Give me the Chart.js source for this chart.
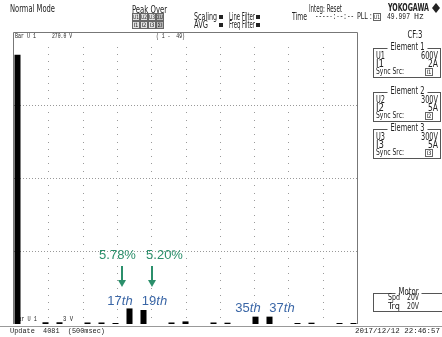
<!DOCTYPE html>
<html>
<head>
<meta charset="utf-8">
<script src="https://cdn.jsdelivr.net/npm/chart.js@4.4.0/dist/chart.umd.min.js"></script>
<style>
html, body { margin: 0; padding: 0; background: #fff; }
</style>
</head>
<body>
<canvas id="harmChart" width="442" height="337"></canvas>
<script>
// harmonic orders shown on the bar page
var orders = [];
for (var k = 1; k <= 49; k++) orders.push(k);

// U1 amplitude per order (V), order 1 .. 49
var u1Values = [
	249.0, 0, 0, 0, 1.6, 0, 1.6, 0, 0, 0,
	1.4, 0, 1.4, 0, 0.9, 0, 14.39, 0, 12.95, 0,
	0, 0, 1.4, 0, 2.4, 0, 0, 0, 1.4, 0,
	1.2, 0, 0, 0, 6.8, 0, 6.8, 0, 0, 0,
	0.9, 0, 1.2, 0, 0, 0, 0.9, 0, 0.9
];

// range of the bar page and its divisions
var rangeMax = 270.0;
var xGrid = [5.4, 10.3, 15.2, 20.1, 25.0, 29.9, 34.8, 39.7, 44.6];
var yGrid = [67.5, 135, 202.5];

// annotated harmonics
var pctOrders = [17, 19];
var pctTexts = ['5.78%', '5.20%'];
var nthOrders = [17, 19, 35, 37];
var nthNums = ['17', '19', '35', '37'];

var NARROW = "'Liberation Sans Narrow','DejaVu Sans Condensed',sans-serif";
var MONO = "'Liberation Mono','DejaVu Sans Mono',monospace";
var SANS = "'Liberation Sans',Arial,sans-serif";
var INK = '#222';
var GREEN = '#2b8f6b';
var BLUE = '#3a66a6';

function put(ctx, s, x, y, size, align, maxW, font, weight) {
	ctx.font = (weight || '') + ' ' + size + 'px ' + (font || NARROW);
	ctx.textAlign = align || 'left';
	ctx.textBaseline = 'middle';
	if (maxW) ctx.fillText(s, x, y, maxW);
	else ctx.fillText(s, x, y);
}

function tagBox(ctx, s, x, y, fill) {
	ctx.fillStyle = fill || '#e4e4e4';
	ctx.fillRect(x, y - 3.5, 8, 7);
	ctx.strokeStyle = '#666';
	ctx.lineWidth = 1;
	ctx.strokeRect(x + 0.5, y - 3.5, 7, 7);
	ctx.fillStyle = INK;
	put(ctx, s, x + 4, y + 0.5, 6, 'center', 6);
}

function group(ctx, title, x, y, w, h, tw) {
	ctx.strokeStyle = '#555';
	ctx.lineWidth = 1;
	ctx.strokeRect(x + 0.5, y + 0.5, w, h);
	var cx = x + w / 2 + 1;
	ctx.fillStyle = '#fff';
	ctx.fillRect(cx - tw / 2 - 3, y - 2, tw + 6, 4);
	ctx.fillStyle = INK;
	put(ctx, title, cx, y - 1, 10, 'center', tw);
}

function element(ctx, n, y, uRange, iRange) {
	group(ctx, 'Element ' + n, 373, y, 67, 29, 34);
	ctx.fillStyle = INK;
	put(ctx, 'U' + n, 376, y + 8, 10, 'left', 9);
	put(ctx, uRange, 438, y + 8, 10, 'right', 17);
	put(ctx, 'I' + n, 376, y + 16, 10, 'left', 8);
	put(ctx, iRange, 438, y + 16, 10, 'right', 10);
	put(ctx, 'Sync Src:', 376, y + 24, 9, 'left', 28);
	tagBox(ctx, 'I' + n, 425, y + 24, '#fff');
}

// dotted division grid and lower range label, drawn under the bars
var underBars = {
	id: 'underBars',
	beforeDatasetsDraw: function(chart) {
		var ctx = chart.ctx;
		var a = chart.chartArea;
		var xs = chart.scales.x;
		var ys = chart.scales.y;
		var step = (a.bottom - a.top) / 40;
		ctx.save();
		ctx.fillStyle = '#9a9a9a';
		xGrid.forEach(function(v) {
			var gx = Math.round(xs.getPixelForValue(v));
			for (var n = 2; n < 40; n++) {
				if (n % 10 == 0) continue;
				ctx.fillRect(gx, Math.round(a.top + n * step), 1, 1);
			}
		});
		ctx.strokeStyle = '#999';
		ctx.lineWidth = 1;
		ctx.setLineDash([1, 2]);
		yGrid.forEach(function(v) {
			var gy = Math.round(ys.getPixelForValue(v)) + 0.5;
			ctx.beginPath();
			ctx.moveTo(a.left, gy);
			ctx.lineTo(a.right, gy);
			ctx.stroke();
		});
		ctx.setLineDash([]);
		ctx.fillStyle = INK;
		put(ctx, 'Bar U 1', 15, 319, 8, 'left', 22, MONO);
		put(ctx, '3 V', 63, 319, 8, 'left', 10, MONO);
		ctx.restore();
	}
};

var screenText = {
	id: 'screenText',
	afterDraw: function(chart) {
		var ctx = chart.ctx;
		var a = chart.chartArea;
		var xs = chart.scales.x;
		ctx.save();

		// frame of the bar page
		ctx.strokeStyle = '#777';
		ctx.lineWidth = 1;
		ctx.beginPath();
		ctx.moveTo(Math.round(a.left) - 0.5, Math.round(a.bottom));
		ctx.lineTo(Math.round(a.left) - 0.5, Math.round(a.top) + 0.5);
		ctx.lineTo(Math.round(a.right) + 0.5, Math.round(a.top) + 0.5);
		ctx.lineTo(Math.round(a.right) + 0.5, Math.round(a.bottom));
		ctx.stroke();
		ctx.strokeStyle = '#999';
		ctx.beginPath();
		ctx.moveTo(0, 326.5);
		ctx.lineTo(442, 326.5);
		ctx.stroke();

		// status header
		ctx.fillStyle = INK;
		put(ctx, 'Normal Mode', 10, 9, 11, 'left', 45);
		put(ctx, 'Peak Over', 132, 10, 11, 'left', 35);
		var pk = ['U1', 'U2', 'U3', '\u03A3U'];
		var pi = ['I1', 'I2', 'I3', '\u03A3I'];
		for (var i = 0; i < 4; i++) {
			tagBox(ctx, pk[i], 132 + i * 8, 17, i == 3 ? '#bbb' : '#e4e4e4');
			tagBox(ctx, pi[i], 132 + i * 8, 25, i == 3 ? '#bbb' : '#e4e4e4');
		}
		ctx.fillStyle = INK;
		put(ctx, 'Scaling', 194, 17, 10, 'left', 23);
		put(ctx, 'AVG', 194, 25, 10, 'left', 14);
		ctx.fillRect(219, 15, 4, 4);
		ctx.fillRect(219, 23, 4, 4);
		put(ctx, 'Line Filter', 229, 17, 10, 'left', 26);
		put(ctx, 'Freq Filter', 229, 25, 10, 'left', 26);
		ctx.fillRect(256, 15, 4, 4);
		ctx.fillRect(256, 23, 4, 4);
		put(ctx, 'Time', 292, 17, 10, 'left', 15);
		put(ctx, 'Integ: Reset', 309, 9, 10, 'left', 33);
		put(ctx, '-----:--:--', 315, 17, 9, 'left', 39, MONO);
		put(ctx, 'YOKOGAWA', 388, 8, 10, 'left', 41, NARROW, 'bold');
		ctx.beginPath();
		ctx.moveTo(436, 3); ctx.lineTo(432, 8); ctx.lineTo(436, 13); ctx.lineTo(440, 8);
		ctx.closePath();
		ctx.fill();
		put(ctx, 'PLL :', 357, 17, 9, 'left', 15);
		tagBox(ctx, 'U1', 373, 17, '#fff');
		ctx.fillStyle = INK;
		put(ctx, '49.997', 387, 17, 9, 'left', 23, MONO);
		put(ctx, 'Hz', 414, 17, 9, 'left', 10, MONO);

		// page header inside the frame
		put(ctx, 'Bar U 1', 15, 36, 8, 'left', 21, MONO);
		put(ctx, '270.0 V', 52, 36, 8, 'left', 20, MONO);
		put(ctx, '( 1 -  49)', 156, 36, 8, 'left', 29, MONO);

		// right hand panel
		put(ctx, 'CF:3', 415, 35, 10, 'center', 15);
		element(ctx, 1, 48, '600V', '2A');
		element(ctx, 2, 92, '300V', '5A');
		element(ctx, 3, 129, '300V', '5A');
		group(ctx, 'Motor', 373, 293, 69, 18, 20);
		ctx.fillStyle = INK;
		put(ctx, 'Spd', 388, 298, 9, 'left', 12);
		put(ctx, '20V', 419, 298, 9, 'right', 12);
		put(ctx, 'Trq', 388, 307, 9, 'left', 12);
		put(ctx, '20V', 419, 307, 9, 'right', 12);

		// footer
		put(ctx, 'Update  4081  (500msec)', 10, 331, 8, 'left', 95, MONO);
		put(ctx, '2017/12/12 22:46:57', 440, 331, 8, 'right', 85, MONO);

		// harmonic ratio call-outs
		var pctDx = [-12, 21];
		var arrowDx = [-8, 8];
		for (var j = 0; j < pctOrders.length; j++) {
			var px = xs.getPixelForValue(pctOrders[j]);
			ctx.fillStyle = GREEN;
			put(ctx, pctTexts[j], px + pctDx[j], 255, 13, 'center', null, SANS);
			var ax = Math.round(px + arrowDx[j]);
			ctx.strokeStyle = GREEN;
			ctx.lineWidth = 2;
			ctx.beginPath();
			ctx.moveTo(ax, 266);
			ctx.lineTo(ax, 281);
			ctx.stroke();
			ctx.beginPath();
			ctx.moveTo(ax - 4, 280);
			ctx.lineTo(ax + 4, 280);
			ctx.lineTo(ax, 287);
			ctx.closePath();
			ctx.fill();
		}
		var nthDx = [-9.5, 11, -7.5, 12.5];
		var nthY = [301, 301, 308, 308];
		for (var m = 0; m < nthOrders.length; m++) {
			var cx = xs.getPixelForValue(nthOrders[m]) + nthDx[m];
			ctx.font = '13px ' + SANS;
			var w1 = ctx.measureText(nthNums[m]).width;
			ctx.font = 'italic 13px ' + SANS;
			var w2 = ctx.measureText('th').width;
			var x0 = cx - (w1 + w2) / 2;
			ctx.fillStyle = BLUE;
			put(ctx, nthNums[m], x0, nthY[m], 13, 'left', null, SANS);
			put(ctx, 'th', x0 + w1, nthY[m], 13, 'left', null, SANS, 'italic');
		}
		ctx.restore();
	}
};

var barData = orders.map(function(o, i) { return { x: o, y: u1Values[i] }; });

var chart = new Chart(document.getElementById('harmChart').getContext('2d'), {
	type: 'bar',
	data: {
		datasets: [{
			label: 'U1',
			data: barData,
			backgroundColor: '#000',
			borderWidth: 0,
			barPercentage: 0.86,
			categoryPercentage: 1.0
		}]
	},
	options: {
		responsive: false,
		animation: false,
		devicePixelRatio: 1,
		layout: { padding: { left: 14, top: 32, right: 85, bottom: 13 } },
		plugins: { legend: { display: false }, tooltip: { enabled: false } },
		scales: {
			x: { type: 'linear', display: false, offset: false, min: 0.5, max: 49.5 },
			y: { display: false, min: 0, max: rangeMax }
		}
	},
	plugins: [underBars, screenText]
});
</script>
</body>
</html>
